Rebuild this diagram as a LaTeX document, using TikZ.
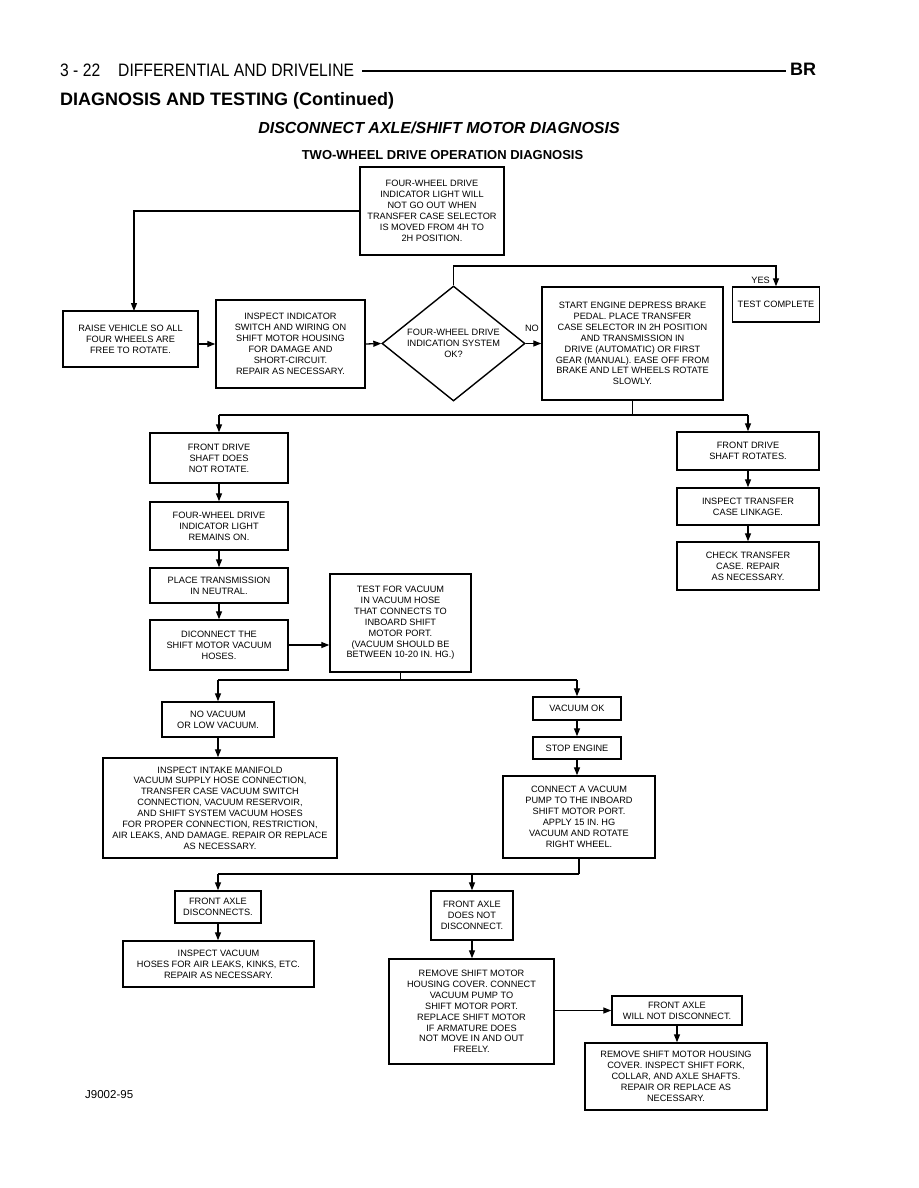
\documentclass[tikz,border=0pt]{standalone}
\usepackage{fontspec}
\setmainfont{Liberation Sans}
\newfontfamily\condfont[FakeStretch=0.87]{Liberation Sans}
\usetikzlibrary{shapes.geometric,arrows.meta}
\begin{document}
\begin{tikzpicture}[x=1pt,y=-1pt,
  bx/.style={draw, line width=1.4pt, align=center, inner sep=1pt, font=\fontsize{9.2}{10.9}\selectfont},
  arr/.style={line width=1.3pt, -{Triangle[length=8pt,width=6pt]}},
  ln/.style={line width=1.3pt},
  lbl/.style={font=\fontsize{9.2}{10.9}\selectfont, inner sep=0pt}]
\useasboundingbox (0,0) rectangle (918,1188);

% header
\node[anchor=base west, inner sep=0pt, font=\condfont\fontsize{18}{20}\selectfont] (hdr) at (60,77) {3 - 22\hspace{18pt}DIFFERENTIAL AND DRIVELINE};
\node[anchor=base west, inner sep=0pt, font=\bfseries\fontsize{18}{20}\selectfont] (br) at (790,76) {BR};
\coordinate (rl) at (362,71);
\coordinate (rr) at (786,71);
\draw[line width=1.6pt] (rl) -- (rr);
\node[anchor=base west, inner sep=0pt, font=\bfseries\fontsize{18}{20}\selectfont] (dt) at (60,106) {DIAGNOSIS AND TESTING (Continued)};
\node[anchor=base, inner sep=0pt, font=\bfseries\itshape\fontsize{16}{18}\selectfont] (ttl) at (439,134) {DISCONNECT AXLE/SHIFT MOTOR DIAGNOSIS};
\node[anchor=base, inner sep=0pt, font=\bfseries\fontsize{13}{15}\selectfont] (sub) at (442.5,159) {TWO-WHEEL DRIVE OPERATION DIAGNOSIS};

% boxes
\node[bx, minimum width=144pt, minimum height=88pt] (top) at (432,211) {FOUR-WHEEL DRIVE\\INDICATOR LIGHT WILL\\NOT GO OUT WHEN\\TRANSFER CASE SELECTOR\\IS MOVED FROM 4H TO\\2H POSITION.};
\node[bx, minimum width=135pt, minimum height=56pt] (raise) at (130.5,339) {RAISE VEHICLE SO ALL\\FOUR WHEELS ARE\\FREE TO ROTATE.};
\node[bx, minimum width=149pt, minimum height=88pt] (insp) at (290.5,344) {INSPECT INDICATOR\\SWITCH AND WIRING ON\\SHIFT MOTOR HOUSING\\FOR DAMAGE AND\\SHORT-CIRCUIT.\\REPAIR AS NECESSARY.};
\node[bx, diamond, aspect=1.24, inner sep=0pt, minimum width=143pt, minimum height=115pt] (dia) at (453.5,343.5) {FOUR-WHEEL DRIVE\\INDICATION SYSTEM\\OK?};
\node[bx, minimum width=181pt, minimum height=113pt] (se) at (632.5,343.5) {START ENGINE DEPRESS BRAKE\\PEDAL. PLACE TRANSFER\\CASE SELECTOR IN 2H POSITION\\AND TRANSMISSION IN\\DRIVE (AUTOMATIC) OR FIRST\\GEAR (MANUAL). EASE OFF FROM\\BRAKE AND LET WHEELS ROTATE\\SLOWLY.};
\node[bx, minimum width=87pt, minimum height=35pt] (tc) at (776,304.5) {TEST COMPLETE};

\node[bx, minimum width=138pt, minimum height=50pt] (fdn) at (219,458) {FRONT DRIVE\\SHAFT DOES\\NOT ROTATE.};
\node[bx, minimum width=138pt, minimum height=48pt] (fwd) at (219,526) {FOUR-WHEEL DRIVE\\INDICATOR LIGHT\\REMAINS ON.};
\node[bx, minimum width=138pt, minimum height=35pt] (ptn) at (219,585.5) {PLACE TRANSMISSION\\IN NEUTRAL.};
\node[bx, minimum width=138pt, minimum height=50pt] (dsc) at (219,645) {DICONNECT THE\\SHIFT MOTOR VACUUM\\HOSES.};
\node[bx, minimum width=141pt, minimum height=98pt] (tfv) at (400.5,623) {TEST FOR VACUUM\\IN VACUUM HOSE\\THAT CONNECTS TO\\INBOARD SHIFT\\MOTOR PORT.\\(VACUUM SHOULD BE\\BETWEEN 10-20 IN. HG.)};

\node[bx, minimum width=142pt, minimum height=38pt] (fdr) at (748,451) {FRONT DRIVE\\SHAFT ROTATES.};
\node[bx, minimum width=142pt, minimum height=37pt] (itc) at (748,506.5) {INSPECT TRANSFER\\CASE LINKAGE.};
\node[bx, minimum width=142pt, minimum height=48pt] (ctc) at (748,566) {CHECK TRANSFER\\CASE. REPAIR\\AS NECESSARY.};

\node[bx, minimum width=112pt, minimum height=35pt] (nv) at (218,719.5) {NO VACUUM\\OR LOW VACUUM.};
\node[bx, minimum width=234pt, minimum height=100pt] (ii) at (220,808) {INSPECT INTAKE MANIFOLD\\VACUUM SUPPLY HOSE CONNECTION,\\TRANSFER CASE VACUUM SWITCH\\CONNECTION, VACUUM RESERVOIR,\\AND SHIFT SYSTEM VACUUM HOSES\\FOR PROPER CONNECTION, RESTRICTION,\\AIR LEAKS, AND DAMAGE. REPAIR OR REPLACE\\AS NECESSARY.};
\node[bx, minimum width=88pt, minimum height=23pt] (vok) at (577,708.5) {VACUUM OK};
\node[bx, minimum width=88pt, minimum height=22pt] (sten) at (577,748) {STOP ENGINE};
\node[bx, minimum width=152pt, minimum height=82pt] (cav) at (579,817) {CONNECT A VACUUM\\PUMP TO THE INBOARD\\SHIFT MOTOR PORT.\\APPLY 15 IN. HG\\VACUUM AND ROTATE\\RIGHT WHEEL.};

\node[bx, minimum width=86pt, minimum height=32pt] (fad) at (218,907) {FRONT AXLE\\DISCONNECTS.};
\node[bx, minimum width=191pt, minimum height=46pt] (ivh) at (218.5,964) {INSPECT VACUUM\\HOSES FOR AIR LEAKS, KINKS, ETC.\\REPAIR AS NECESSARY.};
\node[bx, minimum width=82pt, minimum height=49pt] (fadn) at (472,915.5) {FRONT AXLE\\DOES NOT\\DISCONNECT.};
\node[bx, minimum width=165pt, minimum height=105pt] (rsm) at (471.5,1011.5) {REMOVE SHIFT MOTOR\\HOUSING COVER. CONNECT\\VACUUM PUMP TO\\SHIFT MOTOR PORT.\\REPLACE SHIFT MOTOR\\IF ARMATURE DOES\\NOT MOVE IN AND OUT\\FREELY.};
\node[bx, minimum width=130pt, minimum height=29pt] (fawnd) at (677,1010.5) {FRONT AXLE\\WILL NOT DISCONNECT.};
\node[bx, minimum width=182pt, minimum height=67pt] (rsm2) at (676,1076.5) {REMOVE SHIFT MOTOR HOUSING\\COVER. INSPECT SHIFT FORK,\\COLLAR, AND AXLE SHAFTS.\\REPAIR OR REPLACE AS\\NECESSARY.};

\node[anchor=base west, inner sep=0pt, font=\fontsize{11.5}{13}\selectfont] (jn) at (85,1098) {J9002-95};

% connectors
\coordinate (rj) at (134,311);
\draw[arr] (top.west) -| (rj);
\draw[arr] (raise.east |- insp.west) -- (insp.west);
\draw[arr] (insp.east) -- (dia.west);
\coordinate (yy) at (0,266);
\draw[arr] (dia.north) -- (dia.north |- yy) -| (tc.north);
\node[lbl, anchor=east] (yes) at (770,280) {YES};
\draw[arr] (dia.east) -- (se.west);
\node[lbl] (no) at (532,328) {NO};

\coordinate (s1) at (0,415);
\draw[ln] (se.south) -- (se.south |- s1);
\draw[ln] (fdn.north |- s1) -- (fdr.north |- s1);
\draw[arr] (fdn.north |- s1) -- (fdn.north);
\draw[arr] (fdr.north |- s1) -- (fdr.north);
\draw[arr] (fdn.south) -- (fwd.north);
\draw[arr] (fwd.south) -- (ptn.north);
\draw[arr] (ptn.south) -- (dsc.north);
\draw[arr] (dsc.east) -- (dsc.east -| tfv.west);
\draw[arr] (fdr.south) -- (itc.north);
\draw[arr] (itc.south) -- (ctc.north);

\coordinate (s2) at (0,680);
\draw[ln] (tfv.south) -- (tfv.south |- s2);
\draw[ln] (nv.north |- s2) -- (vok.north |- s2);
\draw[arr] (nv.north |- s2) -- (nv.north);
\draw[arr] (vok.north |- s2) -- (vok.north);
\draw[arr] (nv.south) -- (ii.north -| nv.south);
\draw[arr] (vok.south) -- (sten.north);
\draw[arr] (sten.south) -- (cav.north -| sten.south);

\coordinate (s3) at (0,874);
\draw[ln] (cav.south) -- (cav.south |- s3);
\draw[ln] (fad.north |- s3) -- (cav.south |- s3);
\draw[arr] (fad.north |- s3) -- (fad.north);
\draw[arr] (fadn.north |- s3) -- (fadn.north);
\draw[arr] (fad.south) -- (ivh.north -| fad.south);
\draw[arr] (fadn.south) -- (rsm.north -| fadn.south);
\draw[arr] (rsm.east |- fawnd.west) -- (fawnd.west);
\draw[arr] (fawnd.south) -- (rsm2.north -| fawnd.south);
\end{tikzpicture}
\end{document}
